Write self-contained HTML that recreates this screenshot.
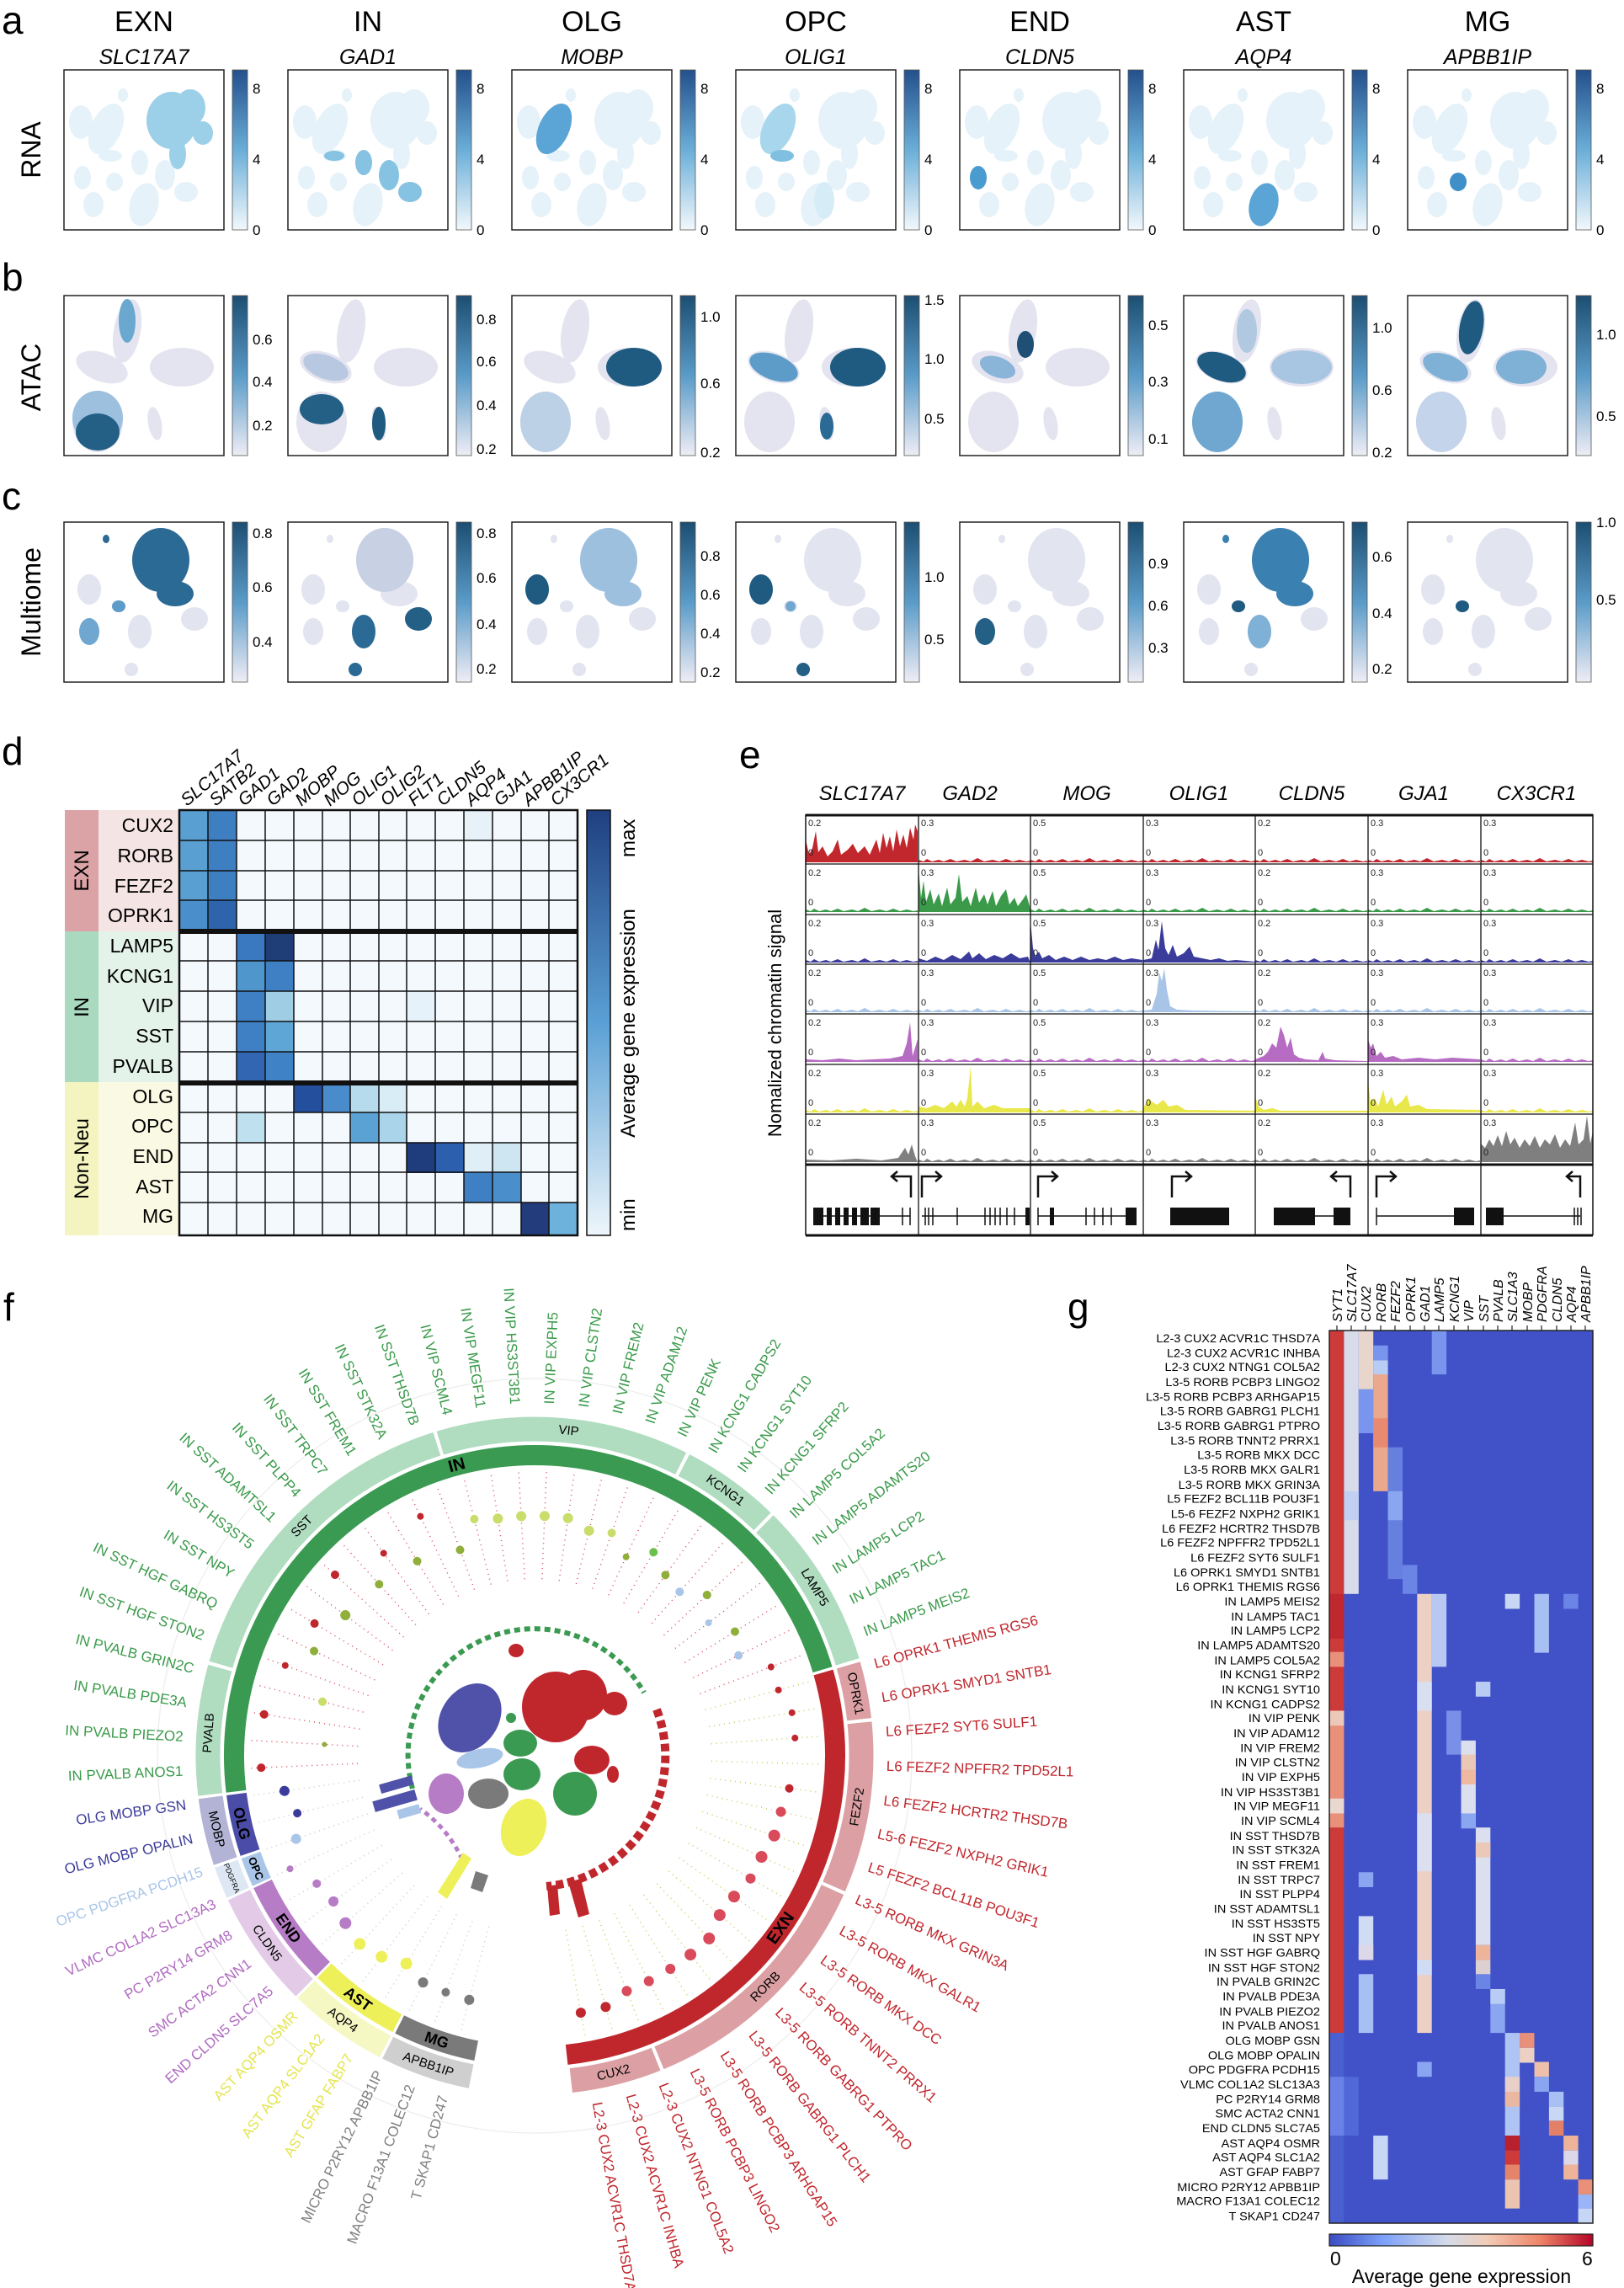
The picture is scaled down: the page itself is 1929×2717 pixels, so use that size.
<!DOCTYPE html>
<html><head><meta charset="utf-8"><style>
html,body{margin:0;padding:0;background:#fff}
svg{display:block;font-family:"Liberation Sans",sans-serif}
.it{font-style:italic}
.tk{font-size:17px}
.et{font-size:11px;fill:#222}
</style></head><body>
<svg width="1929" height="2717" viewBox="0 0 1929 2717" xmlns="http://www.w3.org/2000/svg">
<defs>
<linearGradient id="gA" x1="0" y1="0" x2="0" y2="1"><stop offset="0" stop-color="#24508c"/><stop offset=".5" stop-color="#6aaed8"/><stop offset="1" stop-color="#f2f8fc"/></linearGradient>
<linearGradient id="gB" x1="0" y1="0" x2="0" y2="1"><stop offset="0" stop-color="#1d4e72"/><stop offset=".5" stop-color="#5a9bc8"/><stop offset="1" stop-color="#efedf5"/></linearGradient>
<linearGradient id="gD" x1="0" y1="0" x2="0" y2="1"><stop offset="0" stop-color="#1f3f80"/><stop offset=".5" stop-color="#5aa0d5"/><stop offset="1" stop-color="#eef6fb"/></linearGradient>
<linearGradient id="gG" x1="0" y1="0" x2="1" y2="0"><stop offset="0" stop-color="#3b4cc0"/><stop offset=".2" stop-color="#7b9ff9"/><stop offset=".45" stop-color="#d5dbe8"/><stop offset=".6" stop-color="#f2cbb7"/><stop offset=".8" stop-color="#ee8468"/><stop offset="1" stop-color="#b40426"/></linearGradient>
<g id="ra">
<ellipse cx="128" cy="60" rx="30" ry="34"/><ellipse cx="150" cy="45" rx="18" ry="22"/><ellipse cx="165" cy="75" rx="12" ry="14"/><ellipse cx="135" cy="100" rx="10" ry="18"/>
<ellipse cx="50" cy="70" rx="18" ry="32" transform="rotate(25 50 70)"/><ellipse cx="55" cy="102" rx="14" ry="7"/>
<ellipse cx="90" cy="110" rx="10" ry="15"/><ellipse cx="120" cy="125" rx="12" ry="18"/><ellipse cx="145" cy="145" rx="14" ry="12"/>
<ellipse cx="22" cy="128" rx="10" ry="14"/><ellipse cx="60" cy="133" rx="10" ry="11"/><ellipse cx="95" cy="160" rx="17" ry="26" transform="rotate(15 95 160)"/>
<ellipse cx="35" cy="160" rx="12" ry="15"/><ellipse cx="20" cy="62" rx="14" ry="20"/><ellipse cx="70" cy="30" rx="6" ry="8"/>
</g>
<g id="rb">
<ellipse cx="75" cy="42" rx="16" ry="38" transform="rotate(10 75 42)"/><ellipse cx="45" cy="85" rx="32" ry="17" transform="rotate(20 45 85)"/>
<ellipse cx="140" cy="85" rx="38" ry="23"/><ellipse cx="40" cy="150" rx="30" ry="36"/><ellipse cx="108" cy="152" rx="8" ry="20" transform="rotate(-10 108 152)"/>
</g>
<g id="rc">
<ellipse cx="115" cy="45" rx="34" ry="38"/><ellipse cx="132" cy="85" rx="22" ry="15"/><ellipse cx="50" cy="20" rx="4" ry="5"/>
<ellipse cx="30" cy="80" rx="14" ry="18"/><ellipse cx="65" cy="100" rx="8" ry="7"/><ellipse cx="30" cy="130" rx="12" ry="16"/>
<ellipse cx="90" cy="130" rx="14" ry="20"/><ellipse cx="155" cy="115" rx="16" ry="14"/><ellipse cx="80" cy="175" rx="8" ry="8"/>
</g>
<path id="nz" d="M0 57 L0 54 L6 56 L10 53 L16 56 L24 54 L30 56 L38 53 L45 56 L55 54 L62 56 L70 52 L78 56 L88 54 L96 56 L104 53 L112 56 L120 54 L128 56 L133 55 L133 57Z"/>
</defs>
<rect width="1929" height="2717" fill="#fff"/>

<text x="2" y="40" font-size="46">a</text>
<text x="2" y="345" font-size="46">b</text>
<text x="2" y="605" font-size="46">c</text>
<text x="2" y="908" font-size="46">d</text>
<text x="878" y="912" font-size="46">e</text>
<text x="4" y="1568" font-size="46">f</text>
<text x="1268" y="1568" font-size="46">g</text>

<text transform="translate(48 178) rotate(-90)" font-size="32" text-anchor="middle">RNA</text>
<text transform="translate(48 448) rotate(-90)" font-size="32" text-anchor="middle">ATAC</text>
<text transform="translate(48 715) rotate(-90)" font-size="32" text-anchor="middle">Multiome</text>

<g font-size="34" text-anchor="middle">
<text x="171" y="37">EXN</text><text x="437" y="37">IN</text><text x="703" y="37">OLG</text><text x="969" y="37">OPC</text><text x="1235" y="37">END</text><text x="1501" y="37">AST</text><text x="1767" y="37">MG</text>
</g>
<g font-size="25" text-anchor="middle" class="it">
<text x="171" y="76">SLC17A7</text><text x="437" y="76">GAD1</text><text x="703" y="76">MOBP</text><text x="969" y="76">OLIG1</text><text x="1235" y="76">CLDN5</text><text x="1501" y="76">AQP4</text><text x="1767" y="76">APBB1IP</text>
</g>

<g fill="#e6f2f9">
<use href="#ra" x="76" y="83"/><use href="#ra" x="342" y="83"/><use href="#ra" x="608" y="83"/><use href="#ra" x="874" y="83"/><use href="#ra" x="1140" y="83"/><use href="#ra" x="1406" y="83"/><use href="#ra" x="1672" y="83"/>
</g>
<g transform="translate(76 83)" fill="#9ccfe8"><ellipse cx="128" cy="60" rx="30" ry="34"/><ellipse cx="150" cy="45" rx="18" ry="22"/><ellipse cx="165" cy="75" rx="12" ry="14"/><ellipse cx="135" cy="100" rx="10" ry="18"/></g>
<g transform="translate(342 83)" fill="#86c2e2"><ellipse cx="90" cy="110" rx="10" ry="15"/><ellipse cx="120" cy="125" rx="12" ry="18"/><ellipse cx="145" cy="145" rx="14" ry="12"/><ellipse cx="55" cy="102" rx="12" ry="6"/></g>
<g transform="translate(608 83)" fill="#5aa5d6"><ellipse cx="50" cy="70" rx="18" ry="32" transform="rotate(25 50 70)"/></g>
<g transform="translate(874 83)"><ellipse cx="50" cy="70" rx="18" ry="32" transform="rotate(25 50 70)" fill="#a8d6ec"/><ellipse cx="55" cy="102" rx="14" ry="7" fill="#7fbfe0"/><ellipse cx="105" cy="155" rx="12" ry="22" fill="#d6ecf6"/></g>
<g transform="translate(1140 83)" fill="#4a9bcf"><ellipse cx="22" cy="128" rx="10" ry="14"/></g>
<g transform="translate(1406 83)" fill="#5aa5d6"><ellipse cx="95" cy="160" rx="17" ry="26" transform="rotate(15 95 160)"/></g>
<g transform="translate(1672 83)" fill="#3f8fc8"><ellipse cx="60" cy="133" rx="10" ry="11"/></g>

<g fill="#e4e4f0">
<use href="#rb" x="76" y="351"/><use href="#rb" x="342" y="351"/><use href="#rb" x="608" y="351"/><use href="#rb" x="874" y="351"/><use href="#rb" x="1140" y="351"/><use href="#rb" x="1406" y="351"/><use href="#rb" x="1672" y="351"/>
</g>
<g transform="translate(76 351)"><ellipse cx="40" cy="145" rx="30" ry="32" fill="#9cc0de"/><ellipse cx="40" cy="162" rx="26" ry="22" fill="#245f85"/><ellipse cx="75" cy="30" rx="10" ry="26" fill="#6aa8d0"/></g>
<g transform="translate(342 351)"><ellipse cx="40" cy="135" rx="26" ry="18" fill="#245f85"/><ellipse cx="108" cy="152" rx="8" ry="20" fill="#1f5a80"/><ellipse cx="45" cy="85" rx="28" ry="14" transform="rotate(20 45 85)" fill="#b8c8e0"/></g>
<g transform="translate(608 351)"><ellipse cx="145" cy="85" rx="33" ry="23" fill="#1f5a80"/><ellipse cx="40" cy="150" rx="30" ry="36" fill="#bcd0e6"/></g>
<g transform="translate(874 351)"><ellipse cx="145" cy="85" rx="33" ry="23" fill="#1f5a80"/><ellipse cx="45" cy="85" rx="30" ry="15" transform="rotate(20 45 85)" fill="#5d9cc8"/><ellipse cx="108" cy="155" rx="8" ry="16" fill="#2a6a95"/></g>
<g transform="translate(1140 351)"><ellipse cx="78" cy="58" rx="10" ry="16" fill="#1f4f75"/><ellipse cx="45" cy="85" rx="22" ry="12" transform="rotate(20 45 85)" fill="#8ab4d8"/></g>
<g transform="translate(1406 351)"><ellipse cx="45" cy="85" rx="30" ry="16" transform="rotate(20 45 85)" fill="#1f5a80"/><ellipse cx="40" cy="150" rx="30" ry="36" fill="#6fa7d0"/><ellipse cx="75" cy="42" rx="12" ry="26" fill="#b0c8e0"/><ellipse cx="140" cy="85" rx="36" ry="20" fill="#a8c6e2"/></g>
<g transform="translate(1672 351)"><ellipse cx="75" cy="38" rx="14" ry="32" transform="rotate(10 75 42)" fill="#1f5a80"/><ellipse cx="45" cy="85" rx="28" ry="15" transform="rotate(20 45 85)" fill="#7fb0d6"/><ellipse cx="135" cy="85" rx="30" ry="20" fill="#7fb0d6"/><ellipse cx="40" cy="150" rx="30" ry="36" fill="#c4d4ea"/></g>

<g fill="#e2e4f0">
<use href="#rc" x="76" y="620"/><use href="#rc" x="342" y="620"/><use href="#rc" x="608" y="620"/><use href="#rc" x="874" y="620"/><use href="#rc" x="1140" y="620"/><use href="#rc" x="1406" y="620"/><use href="#rc" x="1672" y="620"/>
</g>
<g transform="translate(76 620)"><ellipse cx="115" cy="45" rx="34" ry="38" fill="#2a6a95"/><ellipse cx="132" cy="85" rx="22" ry="15" fill="#2a6a95"/><ellipse cx="30" cy="130" rx="12" ry="16" fill="#6fa7d0"/><ellipse cx="65" cy="100" rx="8" ry="7" fill="#5d9cc8"/><ellipse cx="50" cy="20" rx="4" ry="5" fill="#2a6a95"/></g>
<g transform="translate(342 620)"><ellipse cx="115" cy="45" rx="34" ry="38" fill="#c8d0e4"/><ellipse cx="90" cy="130" rx="14" ry="20" fill="#2a6a95"/><ellipse cx="155" cy="115" rx="16" ry="14" fill="#245f85"/><ellipse cx="80" cy="175" rx="8" ry="8" fill="#2a6a95"/></g>
<g transform="translate(608 620)"><ellipse cx="115" cy="45" rx="34" ry="38" fill="#9cc0de"/><ellipse cx="132" cy="85" rx="22" ry="15" fill="#9cc0de"/><ellipse cx="30" cy="80" rx="14" ry="18" fill="#1f5a80"/></g>
<g transform="translate(874 620)"><ellipse cx="30" cy="80" rx="14" ry="18" fill="#1f5a80"/><ellipse cx="80" cy="175" rx="8" ry="8" fill="#245f85"/><ellipse cx="65" cy="100" rx="6" ry="6" fill="#6fa7d0"/></g>
<g transform="translate(1140 620)"><ellipse cx="30" cy="130" rx="12" ry="16" fill="#245f85"/></g>
<g transform="translate(1406 620)"><ellipse cx="115" cy="45" rx="34" ry="38" fill="#3a80b0"/><ellipse cx="132" cy="85" rx="22" ry="15" fill="#3a80b0"/><ellipse cx="65" cy="100" rx="8" ry="7" fill="#1f5a80"/><ellipse cx="90" cy="130" rx="14" ry="20" fill="#7fb0d6"/><ellipse cx="50" cy="20" rx="4" ry="5" fill="#3a80b0"/></g>
<g transform="translate(1672 620)"><ellipse cx="65" cy="100" rx="8" ry="7" fill="#1f5a80"/></g>

<g fill="none" stroke="#222" stroke-width="1.5">
<rect x="76" y="83" width="190" height="190"/><rect x="342" y="83" width="190" height="190"/><rect x="608" y="83" width="190" height="190"/><rect x="874" y="83" width="190" height="190"/><rect x="1140" y="83" width="190" height="190"/><rect x="1406" y="83" width="190" height="190"/><rect x="1672" y="83" width="190" height="190"/>
<rect x="76" y="351" width="190" height="190"/><rect x="342" y="351" width="190" height="190"/><rect x="608" y="351" width="190" height="190"/><rect x="874" y="351" width="190" height="190"/><rect x="1140" y="351" width="190" height="190"/><rect x="1406" y="351" width="190" height="190"/><rect x="1672" y="351" width="190" height="190"/>
<rect x="76" y="620" width="190" height="190"/><rect x="342" y="620" width="190" height="190"/><rect x="608" y="620" width="190" height="190"/><rect x="874" y="620" width="190" height="190"/><rect x="1140" y="620" width="190" height="190"/><rect x="1406" y="620" width="190" height="190"/><rect x="1672" y="620" width="190" height="190"/>
</g>
<g stroke="#555" stroke-width="0.8">
<rect x="276" y="83" width="18" height="190" fill="url(#gA)"/><rect x="542" y="83" width="18" height="190" fill="url(#gA)"/><rect x="808" y="83" width="18" height="190" fill="url(#gA)"/><rect x="1074" y="83" width="18" height="190" fill="url(#gA)"/><rect x="1340" y="83" width="18" height="190" fill="url(#gA)"/><rect x="1606" y="83" width="18" height="190" fill="url(#gA)"/><rect x="1872" y="83" width="18" height="190" fill="url(#gA)"/>
<rect x="276" y="351" width="18" height="190" fill="url(#gB)"/><rect x="542" y="351" width="18" height="190" fill="url(#gB)"/><rect x="808" y="351" width="18" height="190" fill="url(#gB)"/><rect x="1074" y="351" width="18" height="190" fill="url(#gB)"/><rect x="1340" y="351" width="18" height="190" fill="url(#gB)"/><rect x="1606" y="351" width="18" height="190" fill="url(#gB)"/><rect x="1872" y="351" width="18" height="190" fill="url(#gB)"/>
<rect x="276" y="620" width="18" height="190" fill="url(#gB)"/><rect x="542" y="620" width="18" height="190" fill="url(#gB)"/><rect x="808" y="620" width="18" height="190" fill="url(#gB)"/><rect x="1074" y="620" width="18" height="190" fill="url(#gB)"/><rect x="1340" y="620" width="18" height="190" fill="url(#gB)"/><rect x="1606" y="620" width="18" height="190" fill="url(#gB)"/><rect x="1872" y="620" width="18" height="190" fill="url(#gB)"/>
</g>
<g class="tk">
<text x="300" y="111">8</text><text x="300" y="195">4</text><text x="300" y="279">0</text>
<text x="566" y="111">8</text><text x="566" y="195">4</text><text x="566" y="279">0</text>
<text x="832" y="111">8</text><text x="832" y="195">4</text><text x="832" y="279">0</text>
<text x="1098" y="111">8</text><text x="1098" y="195">4</text><text x="1098" y="279">0</text>
<text x="1364" y="111">8</text><text x="1364" y="195">4</text><text x="1364" y="279">0</text>
<text x="1630" y="111">8</text><text x="1630" y="195">4</text><text x="1630" y="279">0</text>
<text x="1896" y="111">8</text><text x="1896" y="195">4</text><text x="1896" y="279">0</text>
<text x="300" y="409">0.6</text><text x="300" y="459">0.4</text><text x="300" y="511">0.2</text>
<text x="566" y="385">0.8</text><text x="566" y="435">0.6</text><text x="566" y="487">0.4</text><text x="566" y="539">0.2</text>
<text x="832" y="382">1.0</text><text x="832" y="461">0.6</text><text x="832" y="543">0.2</text>
<text x="1098" y="362">1.5</text><text x="1098" y="432">1.0</text><text x="1098" y="503">0.5</text>
<text x="1364" y="392">0.5</text><text x="1364" y="459">0.3</text><text x="1364" y="527">0.1</text>
<text x="1630" y="395">1.0</text><text x="1630" y="469">0.6</text><text x="1630" y="543">0.2</text>
<text x="1896" y="403">1.0</text><text x="1896" y="500">0.5</text>
<text x="300" y="639">0.8</text><text x="300" y="703">0.6</text><text x="300" y="768">0.4</text>
<text x="566" y="639">0.8</text><text x="566" y="692">0.6</text><text x="566" y="747">0.4</text><text x="566" y="800">0.2</text>
<text x="832" y="666">0.8</text><text x="832" y="712">0.6</text><text x="832" y="758">0.4</text><text x="832" y="804">0.2</text>
<text x="1098" y="691">1.0</text><text x="1098" y="765">0.5</text>
<text x="1364" y="675">0.9</text><text x="1364" y="725">0.6</text><text x="1364" y="775">0.3</text>
<text x="1630" y="667">0.6</text><text x="1630" y="734">0.4</text><text x="1630" y="800">0.2</text>
<text x="1896" y="626">1.0</text><text x="1896" y="718">0.5</text>
</g>

<!-- Panel d -->
<rect x="77" y="962" width="40" height="144" fill="#dba3a6"/><rect x="117" y="962" width="95" height="144" fill="#f5e4e4"/>
<rect x="77" y="1106" width="40" height="179" fill="#a9d9bf"/><rect x="117" y="1106" width="95" height="179" fill="#e4f3ea"/>
<rect x="77" y="1285" width="40" height="182" fill="#f4f4c0"/><rect x="117" y="1285" width="95" height="182" fill="#fafae4"/>
<g font-size="24" text-anchor="middle">
<text transform="translate(105 1034) rotate(-90)">EXN</text>
<text transform="translate(105 1196) rotate(-90)">IN</text>
<text transform="translate(105 1376) rotate(-90)">Non-Neu</text>
</g>
<g font-size="23" text-anchor="end">
<text x="206" y="988">CUX2</text><text x="206" y="1024">RORB</text><text x="206" y="1060">FEZF2</text><text x="206" y="1095">OPRK1</text>
<text x="206" y="1131">LAMP5</text><text x="206" y="1167">KCNG1</text><text x="206" y="1202">VIP</text><text x="206" y="1238">SST</text><text x="206" y="1274">PVALB</text>
<text x="206" y="1310">OLG</text><text x="206" y="1345">OPC</text><text x="206" y="1381">END</text><text x="206" y="1417">AST</text><text x="206" y="1452">MG</text>
</g>
<rect x="213" y="962" width="473" height="505" fill="#f3f9fd"/>
<g>
<rect x="213" y="962" width="34" height="143" fill="#5a9fd2"/><rect x="247" y="962" width="34" height="143" fill="#3e7fc2"/>
<rect x="247" y="1069" width="34" height="36" fill="#2e64ac"/><rect x="213" y="1069" width="34" height="36" fill="#4a8ecb"/>
<rect x="551" y="962" width="34" height="36" fill="#e6f1f8"/>
<rect x="281" y="1105" width="34" height="36" fill="#3a78c0"/><rect x="315" y="1105" width="34" height="36" fill="#1f3e78"/>
<rect x="281" y="1141" width="34" height="36" fill="#4f96cd"/><rect x="315" y="1141" width="34" height="36" fill="#3f80c4"/>
<rect x="281" y="1177" width="34" height="36" fill="#3f80c4"/><rect x="315" y="1177" width="34" height="36" fill="#9ecde4"/><rect x="483" y="1177" width="34" height="36" fill="#e6f2f9"/>
<rect x="281" y="1213" width="34" height="36" fill="#3f80c4"/><rect x="315" y="1213" width="34" height="36" fill="#5ea6d6"/>
<rect x="281" y="1249" width="34" height="36" fill="#3266b2"/><rect x="315" y="1249" width="34" height="36" fill="#3f82c5"/>
<rect x="349" y="1285" width="34" height="36" fill="#244f9c"/><rect x="383" y="1285" width="34" height="36" fill="#4a8ccb"/><rect x="416" y="1285" width="34" height="36" fill="#b5dbec"/><rect x="450" y="1285" width="34" height="36" fill="#d8edf6"/>
<rect x="281" y="1321" width="34" height="36" fill="#bfe1ef"/><rect x="416" y="1321" width="34" height="36" fill="#5aa2d4"/><rect x="450" y="1321" width="34" height="36" fill="#a9d4ea"/>
<rect x="483" y="1357" width="34" height="36" fill="#1f3c7c"/><rect x="517" y="1357" width="34" height="36" fill="#2c60ae"/><rect x="551" y="1357" width="34" height="36" fill="#e0eff7"/><rect x="585" y="1357" width="34" height="36" fill="#cde6f2"/>
<rect x="551" y="1392" width="34" height="36" fill="#3e80c3"/><rect x="585" y="1392" width="34" height="36" fill="#4a8fcc"/>
<rect x="619" y="1428" width="34" height="39" fill="#233c7c"/><rect x="652" y="1428" width="34" height="39" fill="#6cb2dc"/>
</g>
<g stroke="#111" stroke-width="1.5">
<path d="M247 962V1467M281 962V1467M315 962V1467M349 962V1467M383 962V1467M416 962V1467M450 962V1467M483 962V1467M517 962V1467M551 962V1467M585 962V1467M619 962V1467M652 962V1467"/>
<path d="M213 998H686M213 1034H686M213 1069H686M213 1141H686M213 1177H686M213 1213H686M213 1249H686M213 1321H686M213 1357H686M213 1392H686M213 1428H686"/>
<rect x="213" y="962" width="473" height="505" fill="none" stroke-width="2.5"/>
<path d="M213 1106H686M213 1286H686" stroke-width="6"/>
</g>
<g font-size="21" class="it">
<text transform="translate(222 958) rotate(-40)">SLC17A7</text><text transform="translate(256 958) rotate(-40)">SATB2</text><text transform="translate(290 958) rotate(-40)">GAD1</text><text transform="translate(324 958) rotate(-40)">GAD2</text><text transform="translate(358 958) rotate(-40)">MOBP</text><text transform="translate(392 958) rotate(-40)">MOG</text><text transform="translate(425 958) rotate(-40)">OLIG1</text><text transform="translate(459 958) rotate(-40)">OLIG2</text><text transform="translate(492 958) rotate(-40)">FLT1</text><text transform="translate(526 958) rotate(-40)">CLDN5</text><text transform="translate(560 958) rotate(-40)">AQP4</text><text transform="translate(594 958) rotate(-40)">GJA1</text><text transform="translate(628 958) rotate(-40)">APBB1IP</text><text transform="translate(661 958) rotate(-40)">CX3CR1</text>
</g>
<rect x="697" y="962" width="28" height="505" fill="url(#gD)" stroke="#111" stroke-width="1.5"/>
<g font-size="24">
<text transform="translate(754 1018) rotate(-90)">max</text>
<text transform="translate(754 1215) rotate(-90)" text-anchor="middle">Average gene expression</text>
<text transform="translate(754 1462) rotate(-90)">min</text>
</g>

<!-- Panel e -->
<g font-size="24" class="it" text-anchor="middle">
<text x="1024" y="950">SLC17A7</text><text x="1152" y="950">GAD2</text><text x="1291" y="950">MOG</text><text x="1424" y="950">OLIG1</text><text x="1558" y="950">CLDN5</text><text x="1691" y="950">GJA1</text><text x="1825" y="950">CX3CR1</text>
</g>
<text transform="translate(928 1215) rotate(-90)" font-size="22" text-anchor="middle">Nomalized chromatin signal</text>
<g fill="#c1272d"><use href="#nz" x="1091" y="967"/><use href="#nz" x="1224" y="967"/><use href="#nz" x="1358" y="967"/><use href="#nz" x="1491" y="967"/><use href="#nz" x="1625" y="967"/><use href="#nz" x="1759" y="967"/>
<path transform="translate(957 967)" d="M0 57 L0 30 L4 48 L8 40 L12 20 L15 45 L20 38 L26 50 L32 44 L38 30 L42 48 L50 42 L56 35 L62 46 L70 38 L76 48 L84 30 L88 46 L92 22 L96 40 L100 26 L104 44 L108 18 L112 38 L116 24 L120 40 L124 16 L128 30 L130 12 L133 20 L133 57Z"/></g>
<g fill="#3a9a4a"><use href="#nz" x="957" y="1026"/><use href="#nz" x="1224" y="1026"/><use href="#nz" x="1358" y="1026"/><use href="#nz" x="1491" y="1026"/><use href="#nz" x="1625" y="1026"/><use href="#nz" x="1759" y="1026"/>
<path transform="translate(1091 1026)" d="M0 57 L0 5 L3 40 L6 20 L9 45 L14 30 L18 48 L24 35 L28 50 L34 28 L38 48 L44 40 L48 12 L52 45 L58 38 L62 50 L68 28 L72 46 L78 36 L82 48 L88 32 L92 50 L98 38 L104 30 L108 48 L114 40 L118 50 L124 42 L128 36 L132 50 L133 57Z"/></g>
<g fill="#3b3b9b"><use href="#nz" x="957" y="1086"/><use href="#nz" x="1491" y="1086"/><use href="#nz" x="1625" y="1086"/><use href="#nz" x="1759" y="1086"/>
<path transform="translate(1091 1086)" d="M0 57 L0 52 L10 55 L20 50 L30 54 L40 48 L50 53 L60 44 L64 52 L72 46 L80 53 L90 48 L100 52 L110 46 L120 52 L130 50 L133 57Z"/>
<path transform="translate(1224 1086)" d="M0 57 L0 8 L3 40 L6 50 L10 44 L14 52 L22 48 L30 54 L40 50 L50 54 L60 50 L70 54 L80 52 L90 54 L100 50 L110 54 L120 52 L133 54 L133 57Z"/>
<path transform="translate(1358 1086)" d="M0 57 L0 54 L10 52 L15 30 L18 42 L22 8 L26 40 L30 48 L35 36 L40 50 L48 46 L55 38 L60 50 L70 52 L80 54 L90 52 L100 55 L110 54 L133 56 L133 57Z"/></g>
<g fill="#a8c4e6"><use href="#nz" x="957" y="1145"/><use href="#nz" x="1091" y="1145"/><use href="#nz" x="1224" y="1145"/><use href="#nz" x="1491" y="1145"/><use href="#nz" x="1625" y="1145"/><use href="#nz" x="1759" y="1145"/>
<path transform="translate(1358 1145)" d="M0 57 L0 55 L10 54 L16 35 L19 10 L22 20 L25 5 L28 30 L32 50 L40 54 L60 55 L133 56 L133 57Z"/></g>
<g fill="#b66cc2"><use href="#nz" x="1091" y="1204"/><use href="#nz" x="1224" y="1204"/><use href="#nz" x="1358" y="1204"/><use href="#nz" x="1759" y="1204"/>
<path transform="translate(957 1204)" d="M0 57 L0 54 L20 55 L40 53 L60 55 L80 54 L100 53 L115 50 L120 35 L124 10 L127 50 L130 40 L133 30 L133 57Z"/>
<path transform="translate(1491 1204)" d="M0 57 L0 54 L10 50 L15 45 L20 35 L25 40 L30 15 L34 25 L38 40 L42 28 L46 48 L52 52 L60 54 L75 55 L80 45 L83 53 L95 55 L133 56 L133 57Z"/>
<path transform="translate(1625 1204)" d="M0 57 L0 30 L3 40 L6 35 L10 50 L15 45 L20 52 L30 50 L40 54 L60 52 L80 54 L100 52 L133 54 L133 57Z"/></g>
<g fill="#e8e84a"><use href="#nz" x="957" y="1264"/><use href="#nz" x="1224" y="1264"/><use href="#nz" x="1759" y="1264"/>
<path transform="translate(1091 1264)" d="M0 57 L0 50 L10 52 L20 48 L30 52 L40 44 L45 50 L50 42 L55 50 L58 40 L62 2 L64 50 L70 44 L78 52 L90 48 L100 52 L133 52 L133 57Z"/>
<path transform="translate(1358 1264)" d="M0 57 L0 52 L6 40 L10 44 L16 48 L24 42 L30 50 L40 48 L50 54 L133 55 L133 57Z"/>
<path transform="translate(1491 1264)" d="M0 57 L0 38 L4 50 L10 54 L20 52 L30 55 L133 55 L133 57Z"/>
<path transform="translate(1625 1264)" d="M0 57 L0 20 L3 45 L8 40 L12 50 L18 30 L22 48 L28 38 L32 50 L40 44 L46 36 L50 50 L60 48 L70 53 L133 54 L133 57Z"/></g>
<g fill="#7f7f7f"><use href="#nz" x="1091" y="1323"/><use href="#nz" x="1224" y="1323"/><use href="#nz" x="1358" y="1323"/><use href="#nz" x="1491" y="1323"/><use href="#nz" x="1625" y="1323"/>
<path transform="translate(957 1323)" d="M0 57 L0 54 L30 55 L60 53 L90 55 L110 52 L118 40 L122 48 L126 36 L130 50 L133 57Z"/>
<path transform="translate(1759 1323)" d="M0 57 L0 35 L5 40 L10 30 L15 38 L20 25 L25 38 L30 20 L35 36 L40 28 L46 40 L52 30 L58 38 L64 26 L70 40 L76 30 L82 36 L88 24 L94 40 L100 30 L106 38 L112 10 L116 36 L122 30 L126 2 L130 35 L133 20 L133 57Z"/></g>
<g stroke="#111" fill="none">
<path d="M957 1026H1892M957 1086H1892M957 1145H1892M957 1204H1892M957 1264H1892M957 1323H1892" stroke-width="1.2"/>
<path d="M1091 967V1467M1224 967V1467M1358 967V1467M1491 967V1467M1625 967V1467M1759 967V1467" stroke-width="1.3"/>
<path d="M957 968H1892M957 1383H1892M957 1467H1892" stroke-width="3"/>
<path d="M957 967V1467M1892 967V1467" stroke-width="1.5"/>
</g>
<g class="et">
<text x="960" y="981">0.2</text><text x="1094" y="981">0.3</text><text x="1227" y="981">0.5</text><text x="1361" y="981">0.3</text><text x="1494" y="981">0.2</text><text x="1628" y="981">0.3</text><text x="1762" y="981">0.3</text>
<text x="960" y="1040">0.2</text><text x="1094" y="1040">0.3</text><text x="1227" y="1040">0.5</text><text x="1361" y="1040">0.3</text><text x="1494" y="1040">0.2</text><text x="1628" y="1040">0.3</text><text x="1762" y="1040">0.3</text>
<text x="960" y="1100">0.2</text><text x="1094" y="1100">0.3</text><text x="1227" y="1100">0.5</text><text x="1361" y="1100">0.3</text><text x="1494" y="1100">0.2</text><text x="1628" y="1100">0.3</text><text x="1762" y="1100">0.3</text>
<text x="960" y="1159">0.2</text><text x="1094" y="1159">0.3</text><text x="1227" y="1159">0.5</text><text x="1361" y="1159">0.3</text><text x="1494" y="1159">0.2</text><text x="1628" y="1159">0.3</text><text x="1762" y="1159">0.3</text>
<text x="960" y="1218">0.2</text><text x="1094" y="1218">0.3</text><text x="1227" y="1218">0.5</text><text x="1361" y="1218">0.3</text><text x="1494" y="1218">0.2</text><text x="1628" y="1218">0.3</text><text x="1762" y="1218">0.3</text>
<text x="960" y="1278">0.2</text><text x="1094" y="1278">0.3</text><text x="1227" y="1278">0.5</text><text x="1361" y="1278">0.3</text><text x="1494" y="1278">0.2</text><text x="1628" y="1278">0.3</text><text x="1762" y="1278">0.3</text>
<text x="960" y="1337">0.2</text><text x="1094" y="1337">0.3</text><text x="1227" y="1337">0.5</text><text x="1361" y="1337">0.3</text><text x="1494" y="1337">0.2</text><text x="1628" y="1337">0.3</text><text x="1762" y="1337">0.3</text>
<text x="960" y="1016">0</text><text x="1094" y="1016">0</text><text x="1227" y="1016">0</text><text x="1361" y="1016">0</text><text x="1494" y="1016">0</text><text x="1628" y="1016">0</text><text x="1762" y="1016">0</text>
<text x="960" y="1075">0</text><text x="1094" y="1075">0</text><text x="1227" y="1075">0</text><text x="1361" y="1075">0</text><text x="1494" y="1075">0</text><text x="1628" y="1075">0</text><text x="1762" y="1075">0</text>
<text x="960" y="1135">0</text><text x="1094" y="1135">0</text><text x="1227" y="1135">0</text><text x="1361" y="1135">0</text><text x="1494" y="1135">0</text><text x="1628" y="1135">0</text><text x="1762" y="1135">0</text>
<text x="960" y="1194">0</text><text x="1094" y="1194">0</text><text x="1227" y="1194">0</text><text x="1361" y="1194">0</text><text x="1494" y="1194">0</text><text x="1628" y="1194">0</text><text x="1762" y="1194">0</text>
<text x="960" y="1253">0</text><text x="1094" y="1253">0</text><text x="1227" y="1253">0</text><text x="1361" y="1253">0</text><text x="1494" y="1253">0</text><text x="1628" y="1253">0</text><text x="1762" y="1253">0</text>
<text x="960" y="1313">0</text><text x="1094" y="1313">0</text><text x="1227" y="1313">0</text><text x="1361" y="1313">0</text><text x="1494" y="1313">0</text><text x="1628" y="1313">0</text><text x="1762" y="1313">0</text>
<text x="960" y="1372">0</text><text x="1094" y="1372">0</text><text x="1227" y="1372">0</text><text x="1361" y="1372">0</text><text x="1494" y="1372">0</text><text x="1628" y="1372">0</text><text x="1762" y="1372">0</text>
</g>
<g stroke="#111" stroke-width="2.5" fill="none">
<path d="M1082 1422V1397H1060M1066 1391L1059 1397L1066 1403"/>
<path d="M1095 1422V1397H1117M1111 1391L1118 1397L1111 1403"/>
<path d="M1233 1422V1397H1255M1249 1391L1256 1397L1249 1403"/>
<path d="M1392 1422V1397H1414M1408 1391L1415 1397L1408 1403"/>
<path d="M1604 1422V1397H1582M1588 1391L1581 1397L1588 1403"/>
<path d="M1635 1422V1397H1657M1651 1391L1658 1397L1651 1403"/>
<path d="M1877 1422V1397H1862M1868 1391L1861 1397L1868 1403"/>
</g>
<g stroke="#111" stroke-width="1.5"><path d="M966 1444H1081M1095 1444H1222M1233 1444H1349M1513 1444H1604M1635 1444H1750M1765 1444H1877"/>
<path d="M1072 1434V1455M1081 1434V1455M1099 1434V1455M1103 1434V1455M1108 1434V1455M1137 1434V1455M1170 1434V1455M1176 1434V1455M1182 1434V1455M1188 1434V1455M1196 1434V1455M1205 1434V1455M1233 1434V1455M1290 1434V1455M1300 1434V1455M1310 1434V1455M1320 1434V1455M1635 1434V1455M1870 1434V1455M1874 1434V1455M1878 1434V1455"/></g>
<g fill="#111"><rect x="966" y="1434" width="12" height="21"/><rect x="982" y="1434" width="6" height="21"/><rect x="992" y="1434" width="6" height="21"/><rect x="1002" y="1434" width="6" height="21"/><rect x="1012" y="1434" width="6" height="21"/><rect x="1022" y="1434" width="10" height="21"/><rect x="1034" y="1434" width="11" height="21"/>
<rect x="1218" y="1434" width="5" height="21"/><rect x="1247" y="1434" width="5" height="21"/><rect x="1337" y="1434" width="13" height="21"/><rect x="1390" y="1434" width="70" height="21"/><rect x="1513" y="1434" width="49" height="21"/><rect x="1584" y="1434" width="20" height="21"/><rect x="1727" y="1434" width="24" height="21"/><rect x="1765" y="1434" width="21" height="21"/></g>

<!-- Panel f -->
<g transform="translate(635 2085)">
<circle r="448" fill="none" stroke="#ececec" stroke-width="1.2"/>
<g fill="none">
<circle r="357" stroke="#3b9a52" stroke-width="24" pathLength="360" stroke-dasharray="170.2 400" transform="rotate(173.2)"/>
<circle r="357" stroke="#c0272d" stroke-width="24" pathLength="360" stroke-dasharray="100 400" transform="rotate(-16.1)"/>
<circle r="357" stroke="#4a4ca8" stroke-width="24" pathLength="360" stroke-dasharray="11.5 400" transform="rotate(161.2)"/>
<circle r="357" stroke="#a9c6e8" stroke-width="24" pathLength="360" stroke-dasharray="5.5 400" transform="rotate(155.2)"/>
<circle r="357" stroke="#b77cc6" stroke-width="24" pathLength="360" stroke-dasharray="20 400" transform="rotate(134.8)"/>
<circle r="357" stroke="#eef05a" stroke-width="24" pathLength="360" stroke-dasharray="17.2 400" transform="rotate(117.2)"/>
<circle r="357" stroke="#7a7a7a" stroke-width="24" pathLength="360" stroke-dasharray="15.5 400" transform="rotate(101.2)"/>
<circle r="388" stroke="#b0dcc0" stroke-width="29" pathLength="360" stroke-dasharray="22.4 400" transform="rotate(173.2)"/>
<circle r="388" stroke="#b0dcc0" stroke-width="29" pathLength="360" stroke-dasharray="56.4 400" transform="rotate(196.2)"/>
<circle r="388" stroke="#b0dcc0" stroke-width="29" pathLength="360" stroke-dasharray="43.4 400" transform="rotate(253.2)"/>
<circle r="388" stroke="#b0dcc0" stroke-width="29" pathLength="360" stroke-dasharray="17 400" transform="rotate(-62.8)"/>
<circle r="388" stroke="#b0dcc0" stroke-width="29" pathLength="360" stroke-dasharray="28.5 400" transform="rotate(-45.2)"/>
<circle r="388" stroke="#dca0a4" stroke-width="29" pathLength="360" stroke-dasharray="9.7 400" transform="rotate(-16.1)"/>
<circle r="388" stroke="#dca0a4" stroke-width="29" pathLength="360" stroke-dasharray="29.4 400" transform="rotate(-5.8)"/>
<circle r="388" stroke="#dca0a4" stroke-width="29" pathLength="360" stroke-dasharray="43.4 400" transform="rotate(24.2)"/>
<circle r="388" stroke="#dca0a4" stroke-width="29" pathLength="360" stroke-dasharray="15.4 400" transform="rotate(68.2)"/>
<circle r="388" stroke="#b3b3d6" stroke-width="29" pathLength="360" stroke-dasharray="11.5 400" transform="rotate(161.2)"/>
<circle r="388" stroke="#dde8f4" stroke-width="29" pathLength="360" stroke-dasharray="5.5 400" transform="rotate(155.2)"/>
<circle r="388" stroke="#e3cbe8" stroke-width="29" pathLength="360" stroke-dasharray="20 400" transform="rotate(134.8)"/>
<circle r="388" stroke="#f6f8c4" stroke-width="29" pathLength="360" stroke-dasharray="17.2 400" transform="rotate(117.2)"/>
<circle r="388" stroke="#cfcfcf" stroke-width="29" pathLength="360" stroke-dasharray="15.5 400" transform="rotate(101.2)"/>
</g>
<g dominant-baseline="central" text-anchor="middle">
<text transform="rotate(345) translate(0 -357)" font-size="20" font-weight="bold">IN</text>
<text transform="rotate(-55) translate(0 357)" font-size="20" font-weight="bold">EXN</text>
<text transform="rotate(77) translate(0 357)" font-size="18" font-weight="bold">OLG</text>
<text transform="rotate(68) translate(0 357)" font-size="13" font-weight="bold">OPC</text>
<text transform="rotate(55) translate(0 357)" font-size="18" font-weight="bold">END</text>
<text transform="rotate(36) translate(0 357)" font-size="18" font-weight="bold">AST</text>
<text transform="rotate(19) translate(0 357)" font-size="18" font-weight="bold">MG</text>
<g font-size="15">
<text transform="rotate(6) translate(0 -388)">VIP</text>
<text transform="rotate(314.6) translate(0 -388)">SST</text>
<text transform="rotate(274) translate(0 -388)">PVALB</text>
<text transform="rotate(35.7) translate(0 -388)">KCNG1</text>
<text transform="rotate(59) translate(0 -388)">LAMP5</text>
<text transform="rotate(79) translate(0 -388)">OPRK1</text>
<text transform="rotate(-81) translate(0 388)">FEZF2</text>
<text transform="rotate(-45) translate(0 388)">RORB</text>
<text transform="rotate(-14) translate(0 388)">CUX2</text>
<text transform="rotate(77) translate(0 388)">MOBP</text>
<text transform="rotate(68) translate(0 388)" font-size="9">PDGFRA</text>
<text transform="rotate(55) translate(0 388)">CLDN5</text>
<text transform="rotate(36) translate(0 388)">AQP4</text>
<text transform="rotate(19) translate(0 388)">APBB1IP</text>
</g></g>
<g stroke-width="1.5" stroke-dasharray="1 5">
<g stroke="#c8c8c8"><path d="M0 -210V-340" transform="rotate(195)"/><path d="M0 -210V-340" transform="rotate(200.6)"/><path d="M0 -210V-340" transform="rotate(206.2)"/><path d="M0 -210V-340" transform="rotate(211.7)"/><path d="M0 -210V-340" transform="rotate(217.3)"/><path d="M0 -210V-340" transform="rotate(222.9)"/><path d="M0 -210V-340" transform="rotate(228.5)"/><path d="M0 -210V-340" transform="rotate(234.1)"/><path d="M0 -210V-340" transform="rotate(239.6)"/><path d="M0 -210V-340" transform="rotate(245.2)"/><path d="M0 -210V-340" transform="rotate(250.8)"/><path d="M0 -210V-340" transform="rotate(256.4)"/><path d="M0 -210V-340" transform="rotate(262)"/></g>
<g stroke="#d94a5a"><path d="M0 -210V-340" transform="rotate(267.5)"/><path d="M0 -210V-340" transform="rotate(273.1)"/><path d="M0 -210V-340" transform="rotate(278.7)"/><path d="M0 -210V-340" transform="rotate(284.3)"/><path d="M0 -210V-340" transform="rotate(289.9)"/><path d="M0 -210V-340" transform="rotate(295.4)"/><path d="M0 -210V-340" transform="rotate(301)"/><path d="M0 -210V-340" transform="rotate(306.6)"/><path d="M0 -210V-340" transform="rotate(312.2)"/><path d="M0 -210V-340" transform="rotate(317.8)"/><path d="M0 -210V-340" transform="rotate(323.3)"/><path d="M0 -210V-340" transform="rotate(328.9)"/><path d="M0 -210V-340" transform="rotate(334.5)"/><path d="M0 -210V-340" transform="rotate(340.1)"/><path d="M0 -210V-340" transform="rotate(345.7)"/><path d="M0 -210V-340" transform="rotate(351.2)"/><path d="M0 -210V-340" transform="rotate(356.8)"/><path d="M0 -210V-340" transform="rotate(2.4)"/><path d="M0 -210V-340" transform="rotate(8)"/><path d="M0 -210V-340" transform="rotate(13.6)"/><path d="M0 -210V-340" transform="rotate(19.1)"/><path d="M0 -210V-340" transform="rotate(24.7)"/><path d="M0 -210V-340" transform="rotate(30.3)"/><path d="M0 -210V-340" transform="rotate(35.9)"/><path d="M0 -210V-340" transform="rotate(41.5)"/><path d="M0 -210V-340" transform="rotate(47)"/><path d="M0 -210V-340" transform="rotate(52.6)"/><path d="M0 -210V-340" transform="rotate(58.2)"/><path d="M0 -210V-340" transform="rotate(63.8)"/><path d="M0 -210V-340" transform="rotate(69.4)"/></g>
<g stroke="#c8c85a"><path d="M0 -210V-340" transform="rotate(74.9)"/><path d="M0 -210V-340" transform="rotate(80.5)"/><path d="M0 -210V-340" transform="rotate(86.1)"/><path d="M0 -210V-340" transform="rotate(91.7)"/><path d="M0 -210V-340" transform="rotate(97.3)"/><path d="M0 -210V-340" transform="rotate(102.8)"/><path d="M0 -210V-340" transform="rotate(108.4)"/><path d="M0 -210V-340" transform="rotate(114)"/><path d="M0 -210V-340" transform="rotate(119.6)"/><path d="M0 -210V-340" transform="rotate(125.2)"/><path d="M0 -210V-340" transform="rotate(130.7)"/><path d="M0 -210V-340" transform="rotate(136.3)"/><path d="M0 -210V-340" transform="rotate(141.9)"/><path d="M0 -210V-340" transform="rotate(147.5)"/><path d="M0 -210V-340" transform="rotate(153.1)"/><path d="M0 -210V-340" transform="rotate(158.6)"/><path d="M0 -210V-340" transform="rotate(164.2)"/><path d="M0 -210V-340" transform="rotate(169.8)"/></g>
</g>
<g>
<circle cy="-300" r="6" fill="#7a7a7a" transform="rotate(195)"/><circle cy="-300" r="5" fill="#7a7a7a" transform="rotate(200.6)"/><circle cy="-300" r="6" fill="#7a7a7a" transform="rotate(206.2)"/>
<circle cy="-290" r="7" fill="#eef05a" transform="rotate(211.7)"/><circle cy="-300" r="7" fill="#eef05a" transform="rotate(217.3)"/><circle cy="-305" r="7" fill="#eef05a" transform="rotate(222.9)"/>
<circle cy="-300" r="7" fill="#b77cc6" transform="rotate(228.5)"/><circle cy="-295" r="6" fill="#b77cc6" transform="rotate(234.1)"/><circle cy="-300" r="5" fill="#b77cc6" transform="rotate(239.6)"/><circle cy="-320" r="4" fill="#b77cc6" transform="rotate(245.2)"/>
<circle cy="-300" r="6" fill="#a9c6e8" transform="rotate(250.8)"/><circle cy="-290" r="5" fill="#3b3b9b" transform="rotate(256.4)"/><circle cy="-300" r="6" fill="#3b3b9b" transform="rotate(262)"/>
<circle cy="-325" r="5" fill="#c0272d" transform="rotate(267.5)"/><circle cy="-250" r="3" fill="#8fae3a" transform="rotate(273.1)"/><circle cy="-325" r="5" fill="#c0272d" transform="rotate(278.7)"/><circle cy="-260" r="5" fill="#c8dd6a" transform="rotate(284.3)"/>
<circle cy="-315" r="4" fill="#c0272d" transform="rotate(289.9)"/><circle cy="-290" r="5" fill="#8fae3a" transform="rotate(295.4)"/><circle cy="-305" r="5" fill="#c0272d" transform="rotate(301)"/><circle cy="-280" r="6" fill="#8fae3a" transform="rotate(306.6)"/>
<circle cy="-320" r="5" fill="#c0272d" transform="rotate(312.2)"/><circle cy="-275" r="5" fill="#8fae3a" transform="rotate(317.8)"/><circle cy="-300" r="4" fill="#c0272d" transform="rotate(323.3)"/><circle cy="-270" r="5" fill="#8fae3a" transform="rotate(328.9)"/>
<circle cy="-315" r="4" fill="#c0272d" transform="rotate(334.5)"/><circle cy="-260" r="5" fill="#8fae3a" transform="rotate(340.1)"/><circle cy="-290" r="5" fill="#c8dd6a" transform="rotate(345.7)"/><circle cy="-285" r="6" fill="#c8dd6a" transform="rotate(351.2)"/>
<circle cy="-285" r="6" fill="#c8dd6a" transform="rotate(356.8)"/><circle cy="-285" r="6" fill="#c8dd6a" transform="rotate(2.4)"/><circle cy="-285" r="6" fill="#c8dd6a" transform="rotate(8)"/><circle cy="-275" r="6" fill="#c8dd6a" transform="rotate(13.6)"/>
<circle cy="-280" r="5" fill="#c8dd6a" transform="rotate(19.1)"/><circle cy="-260" r="4" fill="#8fae3a" transform="rotate(24.7)"/><circle cy="-280" r="5" fill="#6bbf4b" transform="rotate(30.3)"/><circle cy="-265" r="5" fill="#8fae3a" transform="rotate(35.9)"/>
<circle cy="-260" r="5" fill="#a9c6e8" transform="rotate(41.5)"/><circle cy="-280" r="5" fill="#8fae3a" transform="rotate(47)"/><circle cy="-260" r="4" fill="#a9c6e8" transform="rotate(52.6)"/><circle cy="-280" r="5" fill="#8fae3a" transform="rotate(58.2)"/><circle cy="-270" r="5" fill="#a9c6e8" transform="rotate(63.8)"/><circle cy="-300" r="4" fill="#c0272d" transform="rotate(69.4)"/>
<circle cy="-300" r="4" fill="#c0272d" transform="rotate(74.9)"/><circle cy="-310" r="4" fill="#c0272d" transform="rotate(80.5)"/><circle cy="-310" r="4" fill="#c0272d" transform="rotate(86.1)"/><circle cy="-305" r="5" fill="#c0272d" transform="rotate(97.3)"/>
<circle cy="-300" r="6" fill="#d94a5a" transform="rotate(102.8)"/><circle cy="-300" r="7" fill="#d94a5a" transform="rotate(108.4)"/><circle cy="-295" r="7" fill="#d94a5a" transform="rotate(114)"/><circle cy="-295" r="6" fill="#d94a5a" transform="rotate(119.6)"/>
<circle cy="-290" r="7" fill="#d94a5a" transform="rotate(125.2)"/><circle cy="-290" r="7" fill="#d94a5a" transform="rotate(130.7)"/><circle cy="-300" r="7" fill="#d94a5a" transform="rotate(136.3)"/><circle cy="-300" r="7" fill="#d94a5a" transform="rotate(141.9)"/>
<circle cy="-300" r="6" fill="#d94a5a" transform="rotate(147.5)"/><circle cy="-300" r="6" fill="#d94a5a" transform="rotate(153.1)"/><circle cy="-300" r="6" fill="#d94a5a" transform="rotate(158.6)"/><circle cy="-310" r="6" fill="#c0272d" transform="rotate(164.2)"/><circle cy="-310" r="6" fill="#c0272d" transform="rotate(169.8)"/>
</g>
<g>
<ellipse cx="-77" cy="-45" rx="34" ry="44" transform="rotate(35 -77 -45)" fill="#4f52a8"/>
<ellipse cx="-65" cy="3" rx="28" ry="11" transform="rotate(-12 -65 3)" fill="#a9c6e8"/>
<ellipse cx="-105" cy="45" rx="21" ry="24" fill="#b77cc6"/>
<ellipse cx="-55" cy="45" rx="24" ry="18" fill="#7a7a7a"/>
<ellipse cx="-13" cy="85" rx="26" ry="35" transform="rotate(20 -13 85)" fill="#eef05a"/>
<g fill="#3b9a52"><ellipse cx="-17" cy="-15" rx="20" ry="16"/><ellipse cx="-15" cy="22" rx="22" ry="19"/><ellipse cx="48" cy="45" rx="26" ry="26"/><circle cx="-28" cy="-45" r="6"/></g>
<g fill="#c0272d"><ellipse cx="25" cy="-58" rx="40" ry="42"/><ellipse cx="58" cy="-72" rx="28" ry="30"/><ellipse cx="95" cy="-62" rx="15" ry="14"/><ellipse cx="68" cy="5" rx="21" ry="17"/><ellipse cx="93" cy="22" rx="7" ry="10"/><ellipse cx="-22" cy="-125" rx="9" ry="8"/></g>
<path d="M-145 39 A150 150 0 0 1 130 -75" fill="none" stroke="#3b9a52" stroke-width="6" stroke-dasharray="7 5"/>
<path d="M145 -55 A155 155 0 0 1 14 155" fill="none" stroke="#c0272d" stroke-width="10" stroke-dasharray="9 5"/>
<path d="M-86 123 A150 150 0 0 0 -136 63" fill="none" stroke="#b77cc6" stroke-width="5" stroke-dasharray="6 5"/>
<g transform="rotate(-16 -150 40)"><rect x="-182" y="25" width="40" height="11" fill="#4f52a8"/><rect x="-195" y="42" width="52" height="13" fill="#4f52a8"/><rect x="-170" y="60" width="27" height="11" fill="#a9c6e8"/></g>
<polygon points="-115,162 -85,115 -75,122 -104,170" fill="#eef05a"/>
<polygon points="-70,137 -55,142 -62,162 -76,157" fill="#7a7a7a"/>
<polygon points="15,155 27,153 30,188 18,190" fill="#c0272d"/>
<polygon points="40,150 55,146 65,188 52,192" fill="#c0272d"/>
</g>
<g font-size="17" dominant-baseline="central">
<g text-anchor="end" fill="#808080">
<text transform="rotate(285) translate(-418 0)">T SKAP1 CD247</text>
<text transform="rotate(290.6) translate(-418 0)">MACRO F13A1 COLEC12</text>
<text transform="rotate(296.2) translate(-418 0)">MICRO P2RY12 APBB1IP</text>
</g>
<g text-anchor="end" fill="#e4e450">
<text transform="rotate(301.7) translate(-418 0)">AST GFAP FABP7</text>
<text transform="rotate(307.3) translate(-418 0)">AST AQP4 SLC1A2</text>
<text transform="rotate(312.9) translate(-418 0)">AST AQP4 OSMR</text>
</g>
<g text-anchor="end" fill="#b06cc0">
<text transform="rotate(318.5) translate(-418 0)">END CLDN5 SLC7A5</text>
<text transform="rotate(324.1) translate(-418 0)">SMC ACTA2 CNN1</text>
<text transform="rotate(329.6) translate(-418 0)">PC P2RY14 GRM8</text>
<text transform="rotate(335.2) translate(-418 0)">VLMC COL1A2 SLC13A3</text>
</g>
<text transform="rotate(340.8) translate(-418 0)" text-anchor="end" fill="#a9c6e8">OPC PDGFRA PCDH15</text>
<g text-anchor="end" fill="#3b3b9b">
<text transform="rotate(346.4) translate(-418 0)">OLG MOBP OPALIN</text>
<text transform="rotate(352) translate(-418 0)">OLG MOBP GSN</text>
</g>
<g text-anchor="end" fill="#3a9a4a">
<text transform="rotate(357.5) translate(-418 0)">IN PVALB ANOS1</text>
<text transform="rotate(363.1) translate(-418 0)">IN PVALB PIEZO2</text>
<text transform="rotate(368.7) translate(-418 0)">IN PVALB PDE3A</text>
<text transform="rotate(374.3) translate(-418 0)">IN PVALB GRIN2C</text>
<text transform="rotate(379.9) translate(-418 0)">IN SST HGF STON2</text>
<text transform="rotate(385.4) translate(-418 0)">IN SST HGF GABRQ</text>
<text transform="rotate(391) translate(-418 0)">IN SST NPY</text>
<text transform="rotate(396.6) translate(-418 0)">IN SST HS3ST5</text>
<text transform="rotate(402.2) translate(-418 0)">IN SST ADAMTSL1</text>
<text transform="rotate(407.8) translate(-418 0)">IN SST PLPP4</text>
<text transform="rotate(413.3) translate(-418 0)">IN SST TRPC7</text>
<text transform="rotate(418.9) translate(-418 0)">IN SST FREM1</text>
<text transform="rotate(424.5) translate(-418 0)">IN SST STK32A</text>
<text transform="rotate(430.1) translate(-418 0)">IN SST THSD7B</text>
<text transform="rotate(435.7) translate(-418 0)">IN VIP SCML4</text>
<text transform="rotate(441.2) translate(-418 0)">IN VIP MEGF11</text>
<text transform="rotate(446.8) translate(-418 0)">IN VIP HS3ST3B1</text>
</g>
<g text-anchor="start" fill="#3a9a4a">
<text transform="rotate(-87.6) translate(418 0)">IN VIP EXPH5</text>
<text transform="rotate(-82) translate(418 0)">IN VIP CLSTN2</text>
<text transform="rotate(-76.4) translate(418 0)">IN VIP FREM2</text>
<text transform="rotate(-70.9) translate(418 0)">IN VIP ADAM12</text>
<text transform="rotate(-65.3) translate(418 0)">IN VIP PENK</text>
<text transform="rotate(-59.7) translate(418 0)">IN KCNG1 CADPS2</text>
<text transform="rotate(-54.1) translate(418 0)">IN KCNG1 SYT10</text>
<text transform="rotate(-48.5) translate(418 0)">IN KCNG1 SFRP2</text>
<text transform="rotate(-43) translate(418 0)">IN LAMP5 COL5A2</text>
<text transform="rotate(-37.4) translate(418 0)">IN LAMP5 ADAMTS20</text>
<text transform="rotate(-31.8) translate(418 0)">IN LAMP5 LCP2</text>
<text transform="rotate(-26.2) translate(418 0)">IN LAMP5 TAC1</text>
<text transform="rotate(-20.6) translate(418 0)">IN LAMP5 MEIS2</text>
</g>
<g text-anchor="start" fill="#c0272d">
<text transform="rotate(-15.1) translate(418 0)">L6 OPRK1 THEMIS RGS6</text>
<text transform="rotate(-9.5) translate(418 0)">L6 OPRK1 SMYD1 SNTB1</text>
<text transform="rotate(-3.9) translate(418 0)">L6 FEZF2 SYT6 SULF1</text>
<text transform="rotate(1.7) translate(418 0)">L6 FEZF2 NPFFR2 TPD52L1</text>
<text transform="rotate(7.3) translate(418 0)">L6 FEZF2 HCRTR2 THSD7B</text>
<text transform="rotate(12.8) translate(418 0)">L5-6 FEZF2 NXPH2 GRIK1</text>
<text transform="rotate(18.4) translate(418 0)">L5 FEZF2 BCL11B POU3F1</text>
<text transform="rotate(24) translate(418 0)">L3-5 RORB MKX GRIN3A</text>
<text transform="rotate(29.6) translate(418 0)">L3-5 RORB MKX GALR1</text>
<text transform="rotate(35.2) translate(418 0)">L3-5 RORB MKX DCC</text>
<text transform="rotate(40.7) translate(418 0)">L3-5 RORB TNNT2 PRRX1</text>
<text transform="rotate(46.3) translate(418 0)">L3-5 RORB GABRG1 PTPRO</text>
<text transform="rotate(51.9) translate(418 0)">L3-5 RORB GABRG1 PLCH1</text>
<text transform="rotate(57.5) translate(418 0)">L3-5 RORB PCBP3 ARHGAP15</text>
<text transform="rotate(63.1) translate(418 0)">L3-5 RORB PCBP3 LINGO2</text>
<text transform="rotate(68.6) translate(418 0)">L2-3 CUX2 NTNG1 COL5A2</text>
<text transform="rotate(74.2) translate(418 0)">L2-3 CUX2 ACVR1C INHBA</text>
<text transform="rotate(79.8) translate(418 0)">L2-3 CUX2 ACVR1C THSD7A</text>
</g>
</g>
</g>

<!-- Panel g -->
<rect x="1579" y="1580" width="313" height="1060" fill="#4152c8"/>
<g transform="translate(0 1580) scale(1 0.9836) translate(0 -1580)">
<rect x="1579" y="1580" width="17.4" height="848" fill="#cc3a3a"/>
<rect x="1579" y="1898" width="17.4" height="54" fill="#c02830"/>
<rect x="1579" y="2039" width="17.4" height="141" fill="#e8907a"/>
<rect x="1579" y="2039" width="17.4" height="18" fill="#ecc8b8"/>
<rect x="1579" y="2145" width="17.4" height="18" fill="#e8d8d0"/>
<rect x="1579" y="1968" width="17.4" height="18" fill="#e8907a"/>
<rect x="1579" y="2428" width="17.4" height="230" fill="#4a5fd0"/>
<rect x="1579" y="2481" width="17.4" height="71" fill="#6a82e8"/>
<rect x="1596.4" y="1580" width="17.4" height="318" fill="#d8dcea"/>
<rect x="1596.4" y="1774" width="17.4" height="35" fill="#c0cff2"/>
<rect x="1596.4" y="2481" width="17.4" height="71" fill="#5068d8"/>
<rect x="1613.8" y="1580" width="17.4" height="71" fill="#e8d6cc"/>
<rect x="1613.8" y="1651" width="17.4" height="53" fill="#7a95ee"/>
<rect x="1613.8" y="2287" width="17.4" height="53" fill="#d0dcf4"/>
<rect x="1613.8" y="2234" width="17.4" height="18" fill="#8aa6f0"/>
<rect x="1613.8" y="2322" width="17.4" height="18" fill="#dcd8e8"/>
<rect x="1613.8" y="2357" width="17.4" height="71" fill="#a8bff4"/>
<rect x="1631.2" y="1598" width="17.4" height="18" fill="#7a95ee"/>
<rect x="1631.2" y="1616" width="17.4" height="18" fill="#b8ccf4"/>
<rect x="1631.2" y="1633" width="17.4" height="141" fill="#eaa88c"/>
<rect x="1631.2" y="1686" width="17.4" height="35" fill="#e88a70"/>
<rect x="1631.2" y="2552" width="17.4" height="53" fill="#c8d8f4"/>
<rect x="1648.6" y="1721" width="17.4" height="159" fill="#6680e0"/>
<rect x="1648.6" y="1774" width="17.4" height="35" fill="#8aa6f0"/>
<rect x="1666" y="1863" width="17.4" height="35" fill="#6a85e6"/>
<rect x="1683.3" y="1898" width="17.4" height="530" fill="#ecd0c4"/>
<rect x="1683.3" y="2004" width="17.4" height="35" fill="#d8e0f0"/>
<rect x="1683.3" y="2163" width="17.4" height="70" fill="#dcdfee"/>
<rect x="1683.3" y="2340" width="17.4" height="18" fill="#d0dcf4"/>
<rect x="1683.3" y="2463" width="17.4" height="18" fill="#8aa6f0"/>
<rect x="1700.7" y="1898" width="17.4" height="88" fill="#b8c8f2"/>
<rect x="1700.7" y="1580" width="17.4" height="53" fill="#7a95ee"/>
<rect x="1718.1" y="2039" width="17.4" height="53" fill="#7a90e8"/>
<rect x="1735.5" y="2075" width="17.4" height="106" fill="#dcdfee"/>
<rect x="1735.5" y="2092" width="17.4" height="18" fill="#eac8b8"/>
<rect x="1735.5" y="2110" width="17.4" height="18" fill="#efb8a0"/>
<rect x="1735.5" y="2163" width="17.4" height="18" fill="#8aa6f0"/>
<rect x="1752.9" y="2180" width="17.4" height="142" fill="#dcdfee"/>
<rect x="1752.9" y="2198" width="17.4" height="18" fill="#ecc8b8"/>
<rect x="1752.9" y="2322" width="17.4" height="18" fill="#eeb49a"/>
<rect x="1752.9" y="2340" width="17.4" height="18" fill="#dcd0d0"/>
<rect x="1752.9" y="2357" width="17.4" height="18" fill="#6a85e6"/>
<rect x="1752.9" y="2004" width="17.4" height="18" fill="#b8ccf4"/>
<rect x="1770.3" y="2375" width="17.4" height="53" fill="#8aa6f0"/>
<rect x="1770.3" y="2375" width="17.4" height="18" fill="#b8ccf6"/>
<rect x="1787.7" y="2428" width="17.4" height="124" fill="#b0c4f4"/>
<rect x="1787.7" y="2481" width="17.4" height="18" fill="#e8d0c8"/>
<rect x="1787.7" y="2499" width="17.4" height="18" fill="#eab8a0"/>
<rect x="1787.7" y="2552" width="17.4" height="18" fill="#b8202e"/>
<rect x="1787.7" y="2570" width="17.4" height="18" fill="#cc3a3a"/>
<rect x="1787.7" y="2587" width="17.4" height="18" fill="#e4846a"/>
<rect x="1787.7" y="2605" width="17.4" height="35" fill="#ecc4b0"/>
<rect x="1787.7" y="1898" width="17.4" height="18" fill="#c8d8f4"/>
<rect x="1805.1" y="2428" width="17.4" height="18" fill="#e8907a"/>
<rect x="1805.1" y="2446" width="17.4" height="18" fill="#ecd0c4"/>
<rect x="1822.5" y="2463" width="17.4" height="18" fill="#eec0ac"/>
<rect x="1822.5" y="2481" width="17.4" height="18" fill="#8aa6f0"/>
<rect x="1822.5" y="1898" width="17.4" height="71" fill="#a8bff4"/>
<rect x="1839.9" y="2499" width="17.4" height="18" fill="#a8c0f4"/>
<rect x="1839.9" y="2517" width="17.4" height="17" fill="#c8d8f4"/>
<rect x="1839.9" y="2534" width="17.4" height="18" fill="#e28068"/>
<rect x="1857.2" y="2552" width="17.4" height="18" fill="#eeb49a"/>
<rect x="1857.2" y="2570" width="17.4" height="17" fill="#dcd8e8"/>
<rect x="1857.2" y="2587" width="17.4" height="18" fill="#eeb49a"/>
<rect x="1857.2" y="1898" width="17.4" height="18" fill="#6a85e6"/>
<rect x="1874.6" y="2605" width="17.4" height="18" fill="#e89078"/>
<rect x="1874.6" y="2623" width="17.4" height="17" fill="#9ab4f8"/>
<rect x="1874.6" y="2640" width="17.4" height="18" fill="#c8d6f6"/>
</g>
<rect x="1579" y="1580" width="313" height="1060" fill="none" stroke="#222" stroke-width="1.5"/>
<g stroke="#222" stroke-width="1.2"><path d="M1588 1574V1580M1605 1574V1580M1622 1574V1580M1640 1574V1580M1657 1574V1580M1675 1574V1580M1692 1574V1580M1709 1574V1580M1727 1574V1580M1744 1574V1580M1762 1574V1580M1779 1574V1580M1796 1574V1580M1814 1574V1580M1831 1574V1580M1849 1574V1580M1866 1574V1580M1883 1574V1580"/></g>
<g font-size="16" class="it">
<text transform="translate(1594 1570) rotate(-90)">SYT1</text><text transform="translate(1611 1570) rotate(-90)">SLC17A7</text><text transform="translate(1628 1570) rotate(-90)">CUX2</text><text transform="translate(1646 1570) rotate(-90)">RORB</text><text transform="translate(1663 1570) rotate(-90)">FEZF2</text><text transform="translate(1681 1570) rotate(-90)">OPRK1</text><text transform="translate(1698 1570) rotate(-90)">GAD1</text><text transform="translate(1715 1570) rotate(-90)">LAMP5</text><text transform="translate(1733 1570) rotate(-90)">KCNG1</text><text transform="translate(1750 1570) rotate(-90)">VIP</text><text transform="translate(1768 1570) rotate(-90)">SST</text><text transform="translate(1785 1570) rotate(-90)">PVALB</text><text transform="translate(1802 1570) rotate(-90)">SLC1A3</text><text transform="translate(1820 1570) rotate(-90)">MOBP</text><text transform="translate(1837 1570) rotate(-90)">PDGFRA</text><text transform="translate(1855 1570) rotate(-90)">CLDN5</text><text transform="translate(1872 1570) rotate(-90)">AQP4</text><text transform="translate(1889 1570) rotate(-90)">APBB1IP</text>
</g>
<g font-size="14.5" text-anchor="end" transform="translate(0 1580) scale(1 0.9836) translate(0 -1580)">
<text x="1568" y="1594">L2-3 CUX2 ACVR1C THSD7A</text><text x="1568" y="1612">L2-3 CUX2 ACVR1C INHBA</text><text x="1568" y="1629">L2-3 CUX2 NTNG1 COL5A2</text><text x="1568" y="1647">L3-5 RORB PCBP3 LINGO2</text><text x="1568" y="1665">L3-5 RORB PCBP3 ARHGAP15</text><text x="1568" y="1682">L3-5 RORB GABRG1 PLCH1</text><text x="1568" y="1700">L3-5 RORB GABRG1 PTPRO</text><text x="1568" y="1718">L3-5 RORB TNNT2 PRRX1</text><text x="1568" y="1735">L3-5 RORB MKX DCC</text><text x="1568" y="1753">L3-5 RORB MKX GALR1</text>
<text x="1568" y="1771">L3-5 RORB MKX GRIN3A</text><text x="1568" y="1788">L5 FEZF2 BCL11B POU3F1</text><text x="1568" y="1806">L5-6 FEZF2 NXPH2 GRIK1</text><text x="1568" y="1824">L6 FEZF2 HCRTR2 THSD7B</text><text x="1568" y="1841">L6 FEZF2 NPFFR2 TPD52L1</text><text x="1568" y="1859">L6 FEZF2 SYT6 SULF1</text><text x="1568" y="1877">L6 OPRK1 SMYD1 SNTB1</text><text x="1568" y="1894">L6 OPRK1 THEMIS RGS6</text><text x="1568" y="1912">IN LAMP5 MEIS2</text><text x="1568" y="1930">IN LAMP5 TAC1</text>
<text x="1568" y="1947">IN LAMP5 LCP2</text><text x="1568" y="1965">IN LAMP5 ADAMTS20</text><text x="1568" y="1983">IN LAMP5 COL5A2</text><text x="1568" y="2000">IN KCNG1 SFRP2</text><text x="1568" y="2018">IN KCNG1 SYT10</text><text x="1568" y="2036">IN KCNG1 CADPS2</text><text x="1568" y="2053">IN VIP PENK</text><text x="1568" y="2071">IN VIP ADAM12</text><text x="1568" y="2089">IN VIP FREM2</text><text x="1568" y="2106">IN VIP CLSTN2</text>
<text x="1568" y="2124">IN VIP EXPH5</text><text x="1568" y="2142">IN VIP HS3ST3B1</text><text x="1568" y="2159">IN VIP MEGF11</text><text x="1568" y="2177">IN VIP SCML4</text><text x="1568" y="2195">IN SST THSD7B</text><text x="1568" y="2212">IN SST STK32A</text><text x="1568" y="2230">IN SST FREM1</text><text x="1568" y="2248">IN SST TRPC7</text><text x="1568" y="2265">IN SST PLPP4</text><text x="1568" y="2283">IN SST ADAMTSL1</text>
<text x="1568" y="2301">IN SST HS3ST5</text><text x="1568" y="2318">IN SST NPY</text><text x="1568" y="2336">IN SST HGF GABRQ</text><text x="1568" y="2354">IN SST HGF STON2</text><text x="1568" y="2371">IN PVALB GRIN2C</text><text x="1568" y="2389">IN PVALB PDE3A</text><text x="1568" y="2407">IN PVALB PIEZO2</text><text x="1568" y="2424">IN PVALB ANOS1</text><text x="1568" y="2442">OLG MOBP GSN</text><text x="1568" y="2460">OLG MOBP OPALIN</text>
<text x="1568" y="2477">OPC PDGFRA PCDH15</text><text x="1568" y="2495">VLMC COL1A2 SLC13A3</text><text x="1568" y="2513">PC P2RY14 GRM8</text><text x="1568" y="2530">SMC ACTA2 CNN1</text><text x="1568" y="2548">END CLDN5 SLC7A5</text><text x="1568" y="2566">AST AQP4 OSMR</text><text x="1568" y="2583">AST AQP4 SLC1A2</text><text x="1568" y="2601">AST GFAP FABP7</text><text x="1568" y="2619">MICRO P2RY12 APBB1IP</text><text x="1568" y="2636">MACRO F13A1 COLEC12</text>
<text x="1568" y="2654">T SKAP1 CD247</text>
</g>
<rect x="1579" y="2653" width="313" height="14" fill="url(#gG)" stroke="#222" stroke-width="1.2"/>
<text x="1580" y="2690" font-size="23">0</text>
<text x="1879" y="2690" font-size="23">6</text>
<text x="1736" y="2711" font-size="23" text-anchor="middle">Average gene expression</text>
</svg>
</body></html>
